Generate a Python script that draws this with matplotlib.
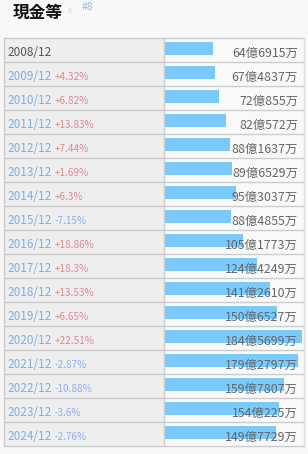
import matplotlib
matplotlib.use("Agg")
import matplotlib.pyplot as plt
from matplotlib.patches import Rectangle

plt.rcParams['font.family'] = ['Noto Sans CJK JP', 'DejaVu Sans']

title = "現金等"
rank = "#8"
years = ["2008/12", "2009/12", "2010/12", "2011/12", "2012/12", "2013/12", "2014/12",
         "2015/12", "2016/12", "2017/12", "2018/12", "2019/12", "2020/12", "2021/12",
         "2022/12", "2023/12", "2024/12"]
changes = ["", "+4.32%", "+6.82%", "+13.83%", "+7.44%", "+1.69%", "+6.3%", "-7.15%",
           "+18.86%", "+18.3%", "+13.53%", "+6.65%", "+22.51%", "-2.87%", "-10.88%",
           "-3.6%", "-2.76%"]
values = [64.6915, 67.4837, 72.0855, 82.0572, 88.1637, 89.6529, 95.3037, 88.4855,
          105.1773, 124.4249, 141.2610, 150.6527, 184.5699, 179.2797, 159.7807,
          154.0225, 149.7729]
labels = ["64億6915万", "67億4837万", "72億855万", "82億572万", "88億1637万", "89億6529万",
          "95億3037万", "88億4855万", "105億1773万", "124億4249万", "141億2610万",
          "150億6527万", "184億5699万", "179億2797万", "159億7807万", "154億225万",
          "149億7729万"]

W, H = 308, 454
fig = plt.figure(figsize=(W / 100, H / 100), dpi=100, facecolor="#f8f8f8")
bg = fig.add_axes([0, 0, 1, 1])
bg.set_xlim(0, W)
bg.set_ylim(H, 0)
bg.axis("off")

top, pitch = 38, 24
n = len(years)
left, mid, right = 4, 164, 304
bottom = top + pitch * n

bg.add_patch(Rectangle((left, top), mid - left, bottom - top, facecolor="#eeeeee", edgecolor="none"))
bg.add_patch(Rectangle((mid, top), right - mid, bottom - top, facecolor="#f9f9f9", edgecolor="none"))

# bars axes
bar_x0, bar_x1 = 165, 165 + 137
bax = fig.add_axes([bar_x0 / W, 1 - bottom / H, (bar_x1 - bar_x0) / W, (bottom - top) / H])
bax.set_xlim(0, max(values))
bax.set_ylim(n, 0)
bax.axis("off")
bax.patch.set_alpha(0)
bax.barh([i + 0.44 for i in range(n)], values, height=0.54, color="#79c9fb", left=0)

# overlay for lines and text
ov = fig.add_axes([0, 0, 1, 1])
ov.set_xlim(0, W)
ov.set_ylim(H, 0)
ov.axis("off")
ov.patch.set_alpha(0)

for i in range(n + 1):
    y = top + pitch * i
    ov.plot([left, right], [y, y], color="#cccccc", lw=1)
ov.plot([left, left], [top, bottom], color="#cccccc", lw=1)
ov.plot([mid, mid], [top, bottom], color="#cccccc", lw=1)
ov.plot([right, right], [top, bottom], color="#dddddd", lw=1)

ov.text(12.5, 12.5, title, fontsize=12, fontweight="bold", color="#111111", va="center", ha="left")
ov.text(70, 14, "®", fontsize=7, color="#dddddd", va="center", ha="center")
ov.text(81.5, 7.5, rank, fontsize=7.5, color="#9ab8e0", va="center", ha="left")

for i, (yr, ch, lab) in enumerate(zip(years, changes, labels)):
    yc = top + pitch * i + 14
    col = "#555555" if i == 0 else "#80aee0"
    ov.text(7, yc, yr, fontsize=8.5, color=col, va="center", ha="left")
    if ch:
        ccol = "#dd8a96" if ch.startswith("+") else "#8eb0f0"
        ov.text(55, yc + 0.5, ch, fontsize=7.2, color=ccol, va="center", ha="left")
    ov.text(298, yc + 1, lab, fontsize=8.9, color="#666666", va="center", ha="right")

fig.savefig("out.png", dpi=100, facecolor=fig.get_facecolor())
